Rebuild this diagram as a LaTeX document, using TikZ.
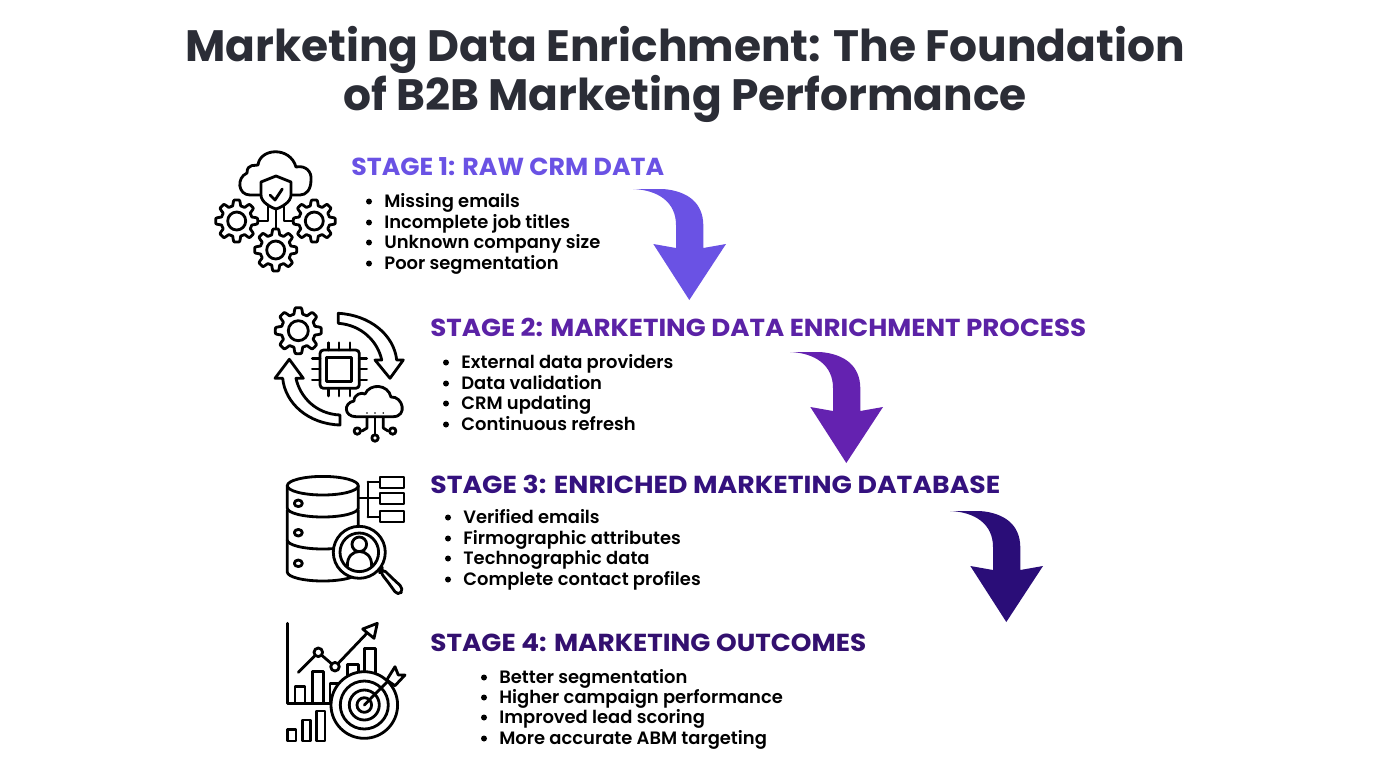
\documentclass[tikz,border=0pt]{standalone}
\usepackage{fontspec}
\usepackage{graphicx}
\setmainfont{Poppins}
\newfontfamily\semifont{Poppins SemiBold}
\usetikzlibrary{positioning}
\definecolor{titlegray}{HTML}{2B2D36}
\definecolor{stagea}{HTML}{6A52E4}
\definecolor{stageb}{HTML}{5B22A6}
\definecolor{stagec}{HTML}{34117E}
\definecolor{staged}{HTML}{33106F}
\definecolor{arrowb}{HTML}{6422B0}
\definecolor{arrowc}{HTML}{2A0D78}
\newcommand{\gearicon}[4]{
\draw[icon] plot[domain=0:358,samples=160] ({#1+#3*(0.87+0.13*max(min(2.2*cos(8*\x),1),-1))*cos(\x)},{#2+#3*(0.87+0.13*max(min(2.2*cos(8*\x),1),-1))*sin(\x)}) -- cycle;
\draw[icon] (#1,#2) circle (#4);
}
\newcommand{\bendarrow}[3]{
\fill[#3,shift={(#1,#2)}] (0,0) -- (30,0) .. controls (55,2) and (70,14) .. (70.3,36) -- (70.3,59) -- (93,55) -- (56.3,111) -- (20.3,55) -- (43,59) -- (43,36) .. controls (43,13) and (25,1) .. (0,0) -- cycle;
}
\newcommand{\bulletline}[3]{
\fill (#1-15,#2-6) circle (3);
\draw(#1,#2) node[itemtext] {#3};
}
\newcommand{\fitw}[2]{\resizebox{#1pt}{\height}{#2}}
\begin{document}
\begin{tikzpicture}[x=0.02cm,y=-0.02cm,
titletext/.style={anchor=base,font=\fontsize{25}{30}\bfseries,text=titlegray,inner sep=0pt},
stagehead/.style={anchor=base west,font=\fontsize{14}{16}\bfseries,inner sep=0pt},
itemtext/.style={anchor=base west,font=\fontsize{10.2}{12}\semifont,text=black,inner sep=0pt},
icon/.style={draw=black,line width=1.6pt,line join=round,line cap=round,fill=white}]
\useasboundingbox (0,0) rectangle (1376,768);

\draw(685,61) node[titletext] (title1) {Marketing Data Enrichment: The Foundation};
\draw(685,110) node[titletext] (title2) {of B2B Marketing Performance};

\draw(351,175) node[stagehead,text=stagea] (stage1) {\fitw{178.1}{STAGE 1: RAW CRM DATA}};
\bulletline{384}{207.5}{Missing emails}
\bulletline{384}{228.5}{Incomplete job titles}
\bulletline{384}{248.5}{Unknown company size}
\bulletline{384}{269.5}{Poor segmentation}

\draw(430,336) node[stagehead,text=stageb] (stage2) {\fitw{373.3}{STAGE 2: MARKETING DATA ENRICHMENT PROCESS}};
\bulletline{461}{368.5}{External data providers}
\bulletline{461}{389.5}{Data validation}
\bulletline{461}{409.5}{CRM updating}
\bulletline{461}{430.5}{Continuous refresh}

\draw(430,493) node[stagehead,text=stagec] (stage3) {\fitw{324.4}{STAGE 3: ENRICHED MARKETING DATABASE}};
\bulletline{463}{523.5}{Verified emails}
\bulletline{463}{544.5}{Firmographic attributes}
\bulletline{463}{564.5}{Technographic data}
\bulletline{463}{585.5}{Complete contact profiles}

\draw(430,651) node[stagehead,text=staged] (stage4) {\fitw{248.1}{STAGE 4: MARKETING OUTCOMES}};
\bulletline{499}{683.5}{Better segmentation}
\bulletline{499}{703.5}{Higher campaign performance}
\bulletline{499}{723.5}{Improved lead scoring}
\bulletline{499}{744.5}{More accurate ABM targeting}

\bendarrow{633}{189}{stagea}
\bendarrow{790}{352}{arrowb}
\bendarrow{950}{511}{arrowc}

% cloud and gears
\draw[icon,fill=none] (261,195) -- (250,195) .. controls (238,195) and (236,178) .. (247,173) .. controls (247,163) and (256,166) .. (258,165) .. controls (260,148) and (290,146) .. (296,167) .. controls (306,165) and (312,172) .. (311,180) .. controls (311,190) and (306,195) .. (300,195) -- (291,195);
\draw[icon] (276,176) -- (291,182) -- (291,195) .. controls (291,202) and (282,207) .. (276,209) .. controls (270,207) and (261,202) .. (261,195) -- (261,182) -- cycle;
\draw[icon,fill=none] (270,195) -- (275,200) -- (282.3,189);
\draw[icon,fill=none] (268,205) -- (268,221) -- (257,221);
\draw[icon,fill=none] (284,205) -- (284,221) -- (294,221);
\draw[icon,fill=none] (276,209) -- (276,230);
\gearicon{236.7}{221}{21}{9}
\gearicon{314.3}{221}{21}{9}
\gearicon{275.7}{250}{21}{9}

% chip and arrows
\gearicon{298.3}{330.7}{23}{10}
\draw[icon,rounded corners=2] (320,350) rectangle (359.3,388.3);
\draw[icon] (326.7,357.3) rectangle (351.7,381.7);
\foreach \k in {328.3,339,350}{
\draw[icon] (\k,342.7) -- (\k,350);
\draw[icon] (\k,388.3) -- (\k,396);
}
\foreach \k in {358.3,369,380}{
\draw[icon] (312.3,\k) -- (320,\k);
\draw[icon] (359.3,\k) -- (366.7,\k);
}
\draw[icon] (338.3,313.3) .. controls (370,315) and (394,335) .. (396.7,360) -- (403.3,360) -- (390,378.3) -- (375,360) -- (381.7,360) .. controls (378,342) and (362,325) .. (338.3,323.3) -- cycle;
\draw[icon] (340,425) .. controls (308,424) and (285,403) .. (282.7,378.3) -- (275,378.3) -- (289.3,359.3) -- (303.3,378.3) -- (296,378.3) .. controls (300,397) and (316,414) .. (340,415) -- cycle;
\draw[icon] (356,416.7) .. controls (344,416.7) and (343,403) .. (354,401) .. controls (354,394) and (362,392) .. (365,394) .. controls (370,383) and (388,384) .. (391,397) .. controls (403,396) and (408,416.7) .. (393,416.7) -- cycle;
\draw[icon,fill=none] (375,417) -- (375,435);
\draw[icon,fill=none] (367,418) -- (367,428) -- (362,431);
\draw[icon,fill=none] (383.3,418) -- (383.3,428) -- (388,431);
\draw[icon] (375,438) circle (3.2);
\draw[icon] (357.3,431) circle (3.2);
\draw[icon] (392.7,431) circle (3.2);
\fill (367,413) circle (0.9);
\fill (375,413) circle (0.9);
\fill (383.3,413) circle (0.9);

% database
\draw[icon,fill=none] (358,498) -- (368,498);
\draw[icon,fill=none] (368,482) -- (368,517);
\draw[icon,fill=none] (368,482) -- (380,482);
\draw[icon,fill=none] (368,498) -- (380,498);
\draw[icon,fill=none] (368,517) -- (380,517);
\draw[icon] (380,477) rectangle (404,488);
\draw[icon] (380,493) rectangle (404,504);
\draw[icon] (380,511) rectangle (404,522);
\draw[icon] (287.3,540) -- (287.3,572) arc[start angle=180,end angle=0,x radius=35.5,y radius=9] -- (358.3,540) -- cycle;
\draw[icon] (287.3,510) -- (287.3,540) arc[start angle=180,end angle=0,x radius=35.5,y radius=9] -- (358.3,510) -- cycle;
\draw[icon] (287.3,486) -- (287.3,508) arc[start angle=180,end angle=0,x radius=35.5,y radius=9] -- (358.3,486) -- cycle;
\draw[icon] (322.8,485.7) ellipse (35.5 and 9.3);
\draw[icon] (298.3,503.3) ellipse (4 and 3.3);
\draw[icon] (298.3,532.7) ellipse (4 and 3.3);
\draw[icon] (298.3,563.3) ellipse (4 and 3.3);
\draw[icon,rounded corners=3] (380,572) -- (388,582) -- (398,596) -- (404,589) -- (391,577) -- (382,568) -- cycle;
\draw[icon] (359.3,552.3) circle (26);
\draw[icon] (359.3,552.3) circle (19.3);
\draw[icon] (359.3,544.3) circle (7.3);
\draw[icon,fill=none] (347.3,566.7) .. controls (347,556) and (353,551.5) .. (359.3,551.5) .. controls (366,551.5) and (372,556) .. (371.7,566.7);

% bars and target
\draw[icon,fill=none] (287.3,623.3) -- (287.3,703.3) -- (331.7,703.3);
\draw[icon] (295,703.3) rectangle (305,686.7);
\draw[icon] (312.3,703.3) rectangle (323.3,671.7);
\draw[icon] (330,703.3) rectangle (340,683.3);
\draw[icon] (347.3,680) rectangle (358.3,664.3);
\draw[icon] (364.3,680) rectangle (375.7,648.3);
\draw[icon,fill=none] (298.3,672.3) -- (318.3,652.3) -- (335,666.7) -- (370,630);
\draw[icon] (318.3,652.3) circle (4.3);
\draw[icon] (335,666.7) circle (4.3);
\draw[icon] (377.3,623.3) -- (362.7,629) -- (374,638.3) -- cycle;
\draw[icon] (287.3,741) rectangle (296,729.3);
\draw[icon] (302.3,741) rectangle (310.7,720);
\draw[icon] (316.7,741) rectangle (325,711);
\draw[icon] (364.3,705) circle (33.3);
\draw[icon] (364.3,705) circle (24);
\draw[icon] (364.3,705) circle (15);
\draw[icon] (364.3,705) circle (7.3);
\draw[icon,fill=none] (364.3,705) -- (388,681);
\draw[icon] (386.7,680) -- (395,666.7) -- (398.3,675) -- (405,675) -- (395,685.7) -- cycle;
\end{tikzpicture}
\end{document}
